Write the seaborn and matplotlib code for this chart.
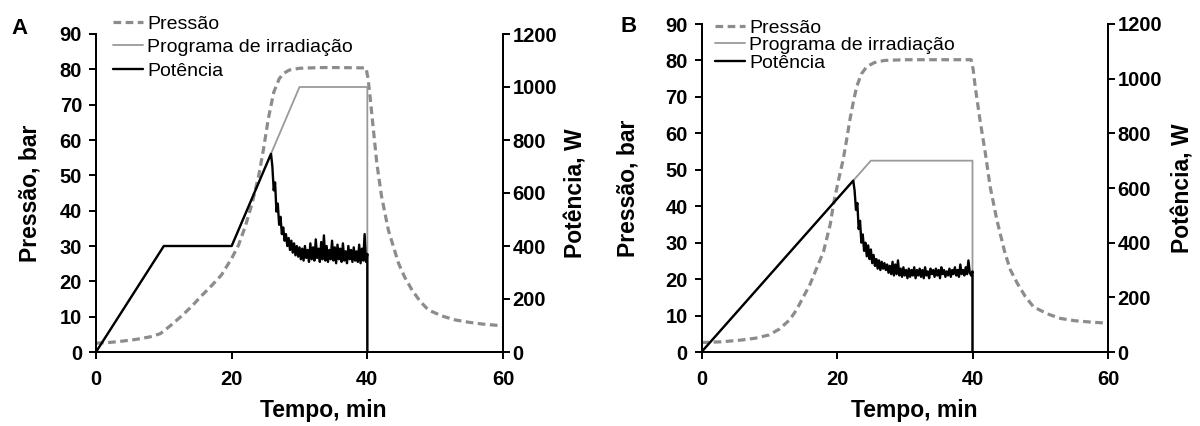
import numpy as np
import matplotlib
matplotlib.use("Agg")
import matplotlib.pyplot as plt
import seaborn as sns

#---------- Dados ----------

# Painel A - pressao (bar)
tempo_pressao_A = [0, 2, 4, 6, 8, 9.5, 11, 12.5, 14, 15.5, 17, 18.5, 20, 21, 22, 23, 24, 24.7,
                   25.4, 26.2, 27, 27.6, 28.5, 30, 33, 36, 39.8, 40.1, 40.4, 40.9, 41.4, 42.1,
                   43.1, 44.6, 45.5, 46.6, 47.8, 49, 51, 52.9, 55, 57, 58.8, 60]
pressao_A = [2.5, 2.7, 3.1, 3.6, 4.3, 5.2, 7.5, 10.0, 12.7, 15.8, 18.7, 21.8, 26.5, 30.2, 35.5,
             42, 50, 57.5, 66, 73.5, 77.3, 78.8, 79.8, 80.3, 80.5, 80.5, 80.4, 77.5, 72.3, 62.8,
             53.4, 44, 34.5, 25.1, 21.2, 17.5, 14.3, 11.9, 10.2, 9.1, 8.4, 7.9, 7.6, 7.4]

# Painel A - programa de irradiacao (W)
tempo_prog_A = [0, 10, 20, 30, 40, 40]
prog_A = [0, 400, 400, 1000, 1000, 0]

# Painel A - potencia (W): rampa ate o pico, depois leitura a cada 0.2 min (26.0 -> 40.0)
tempo_rampa_A = [0, 10, 20, 25.8]
rampa_A = [0, 400, 400, 748]
ruido_A = [700, 610, 640, 530, 560, 480, 510, 445, 470, 420,
           445, 400, 430, 385, 420, 375, 410, 365, 400, 360,
           395, 350, 390, 345, 400, 355, 385, 340, 410, 350,
           395, 345, 425, 355, 390, 340, 415, 350, 440, 345,
           400, 340, 385, 350, 420, 345, 395, 335, 405, 350,
           390, 340, 410, 345, 380, 335, 400, 350, 385, 340,
           395, 345, 380, 340, 405, 335, 390, 345, 445, 340,
           370]

# Painel B - pressao (bar)
tempo_pressao_B = [0, 3, 6, 8, 10, 11.5, 13, 14, 15, 16, 17, 18, 19, 19.5, 20.2, 20.9, 21.4,
                   21.9, 22.4, 22.9, 23.6, 24.4, 25.5, 27, 30, 35, 39.8, 40.1, 40.4, 41.1, 41.9,
                   42.6, 43.6, 44.8, 45.6, 46.6, 47.8, 49, 51, 53, 55, 57.5, 60]
pressao_B = [2.6, 2.8, 3.3, 3.8, 4.7, 6.3, 8.8, 11.5, 15.0, 18.5, 23, 27.5, 35, 40.8, 47, 52.7,
             58, 63.7, 68.5, 72.8, 76.3, 78.3, 79.4, 80, 80.2, 80.2, 80.2, 77.5, 72.8, 63.7, 54.5,
             45.4, 36.2, 27.1, 22.5, 18.9, 15.2, 12.4, 10.5, 9.2, 8.6, 8.2, 7.9]

# Painel B - programa de irradiacao (W)
tempo_prog_B = [0, 25, 40, 40]
prog_B = [0, 700, 700, 0]

# Painel B - potencia (W): rampa ate o pico, depois leitura a cada 0.2 min (22.6 -> 40.0)
tempo_rampa_B = [0, 22.4]
rampa_B = [0, 627]
ruido_B = [590, 520, 545, 450, 480, 400, 430, 370, 400, 350,
           390, 340, 375, 325, 355, 315, 340, 305, 335, 300,
           330, 305, 325, 300, 320, 290, 315, 285, 330, 280,
           320, 285, 335, 280, 305, 275, 310, 280, 300, 270,
           305, 275, 300, 280, 310, 270, 300, 280, 305, 275,
           300, 270, 310, 280, 295, 270, 305, 285, 300, 275,
           305, 280, 300, 270, 310, 285, 300, 275, 295, 280,
           305, 275, 300, 285, 310, 280, 300, 275, 320, 285,
           300, 280, 310, 285, 335, 290, 280, 295]

ticks_tempo = [0, 20, 40, 60]
ticks_pressao = list(range(0, 100, 10))
ticks_potencia = list(range(0, 1400, 200))

#---------- Estilo ----------
sns.set_style("ticks")
plt.rcParams['font.family'] = ['Liberation Sans', 'DejaVu Sans']
for k in ['text.color', 'axes.labelcolor', 'xtick.color', 'ytick.color', 'axes.edgecolor']:
    plt.rcParams[k] = 'black'

COR_PRESSAO = '#8c8c8c'
COR_PROG = '#9a9a9a'
COR_POT = 'black'


def painel(rect, letra, tp, p, tprog, prog, t_rampa, rampa, t0_ruido, ruido, letra_xy, leg_xy, leg_sp):
    ax = fig.add_axes(rect)
    ax2 = ax.twinx()

    # grade de tempo das leituras de potencia (0.2 min)
    t_ruido = np.round(t0_ruido + 0.2 * np.arange(len(ruido)), 2)
    t_pot = list(t_rampa) + list(t_ruido) + [40]
    pot = list(rampa) + list(ruido) + [0]

    sns.lineplot(x=tp, y=p, ax=ax, color=COR_PRESSAO, linewidth=2.3, estimator=None, sort=False)
    ax.lines[0].set_dashes([2.4, 1.4])
    sns.lineplot(x=tprog, y=prog, ax=ax2, color=COR_PROG, linewidth=1.3, estimator=None, sort=False)
    sns.lineplot(x=t_pot, y=pot, ax=ax2, color=COR_POT, linewidth=1.7, estimator=None, sort=False)

    ax.set_xlim(0, 60)
    ax.set_ylim(0, 90)
    ax2.set_ylim(0, 1200)
    ax.set_xticks(ticks_tempo)
    ax.set_yticks(ticks_pressao)
    ax2.set_yticks(ticks_potencia)

    for a in (ax, ax2):
        a.spines['top'].set_visible(False)
        for s in a.spines.values():
            s.set_linewidth(1.4)
        a.tick_params(direction='out', length=5, width=1.4, labelsize=14.5)
        for lab in a.get_xticklabels() + a.get_yticklabels():
            lab.set_fontweight('bold')
    ax.tick_params(axis='y', pad=5)
    ax.tick_params(axis='x', pad=8)
    ax2.tick_params(axis='y', pad=2)

    ax.set_xlabel('Tempo, min', fontsize=16.5, fontweight='bold')
    ax.set_ylabel('Pressão, bar', fontsize=16.5, fontweight='bold')
    ax2.set_ylabel('Potência, W', fontsize=16.5, fontweight='bold')

    linhas = [ax.lines[0], ax2.lines[0], ax2.lines[1]]
    nomes = ['Pressão', 'Programa de irradiação', 'Potência']
    fig.legend(linhas, nomes, loc='upper left', bbox_to_anchor=leg_xy, frameon=False,
               fontsize=14, borderpad=0, borderaxespad=0, handlelength=1.55,
               handletextpad=0.2, labelspacing=leg_sp)

    fig.text(letra_xy[0], letra_xy[1], letra, fontsize=16, fontweight='bold',
             ha='center', va='center')
    return ax, ax2


fig = plt.figure(figsize=(12, 4.26), dpi=100)

axA, axA2 = painel([96 / 1200, 1 - 352 / 426, 407 / 1200, 318 / 426], 'A',
                   tempo_pressao_A, pressao_A, tempo_prog_A, prog_A,
                   tempo_rampa_A, rampa_A, 26.0, ruido_A,
                   (20 / 1200, 1 - 28 / 426), (113 / 1200, 1 - 15 / 426), 0.3)
axA.xaxis.set_label_coords(0.558, -0.148)
axA.yaxis.set_label_coords(-0.135, 0.5)
axA2.yaxis.set_label_coords(1.152, 0.5)

axB, axB2 = painel([701.5 / 1200, 1 - 352 / 426, 406.5 / 1200, 328 / 426], 'B',
                   tempo_pressao_B, pressao_B, tempo_prog_B, prog_B,
                   tempo_rampa_B, rampa_B, 22.6, ruido_B,
                   (629 / 1200, 1 - 27 / 426), (715 / 1200, 1 - 19 / 426), 0.0)
axB.xaxis.set_label_coords(0.523, -0.143)
axB.yaxis.set_label_coords(-0.152, 0.5)
axB2.yaxis.set_label_coords(1.155, 0.5)

plt.savefig('out.png', dpi=100)
